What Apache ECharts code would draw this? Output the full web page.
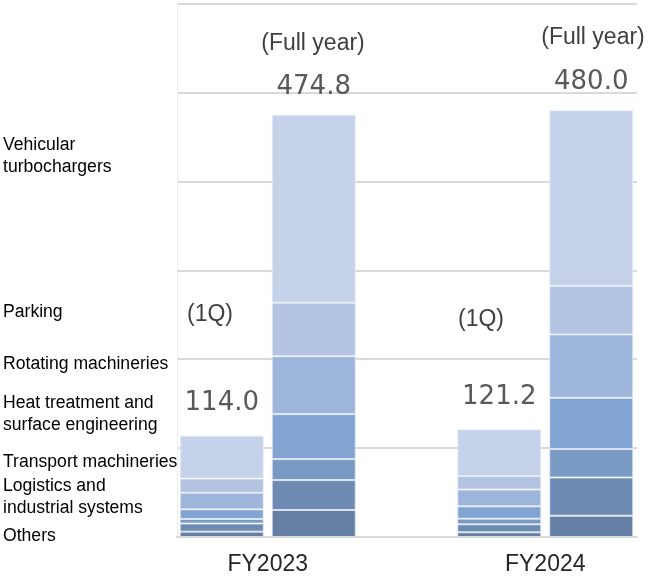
<!DOCTYPE html>
<html>
<head>
<meta charset="utf-8">
<script src="https://cdn.jsdelivr.net/npm/echarts@6/dist/echarts.min.js"></script>
<style>
  html, body { margin: 0; padding: 0; background: #ffffff; }
  #chart { width: 649px; height: 576px; }
</style>
</head>
<body>
<div id="chart"></div>
<script>
// Fiscal years on the category axis
const categories = ['FY2023', 'FY2024'];

// Segment names, bottom of the stack first
const segmentNames = [
  'Others',
  'Logistics and industrial systems',
  'Transport machineries',
  'Heat treatment and surface engineering',
  'Rotating machineries',
  'Parking',
  'Vehicular turbochargers'
];

// First-quarter revenue by segment [FY2023, FY2024]
const q1Others        = [6.0, 5.3];
const q1Logistics     = [9.2, 9.0];
const q1Transport     = [5.0, 6.3];
const q1HeatTreatment = [10.9, 13.9];
const q1Rotating      = [18.7, 18.9];
const q1Parking       = [15.9, 15.1];
const q1Turbo         = [48.3, 52.7];

// Full-year revenue by segment [FY2023, FY2024]
const fyOthers        = [30.3, 23.9];
const fyLogistics     = [33.7, 43.0];
const fyTransport     = [23.6, 32.0];
const fyHeatTreatment = [50.6, 57.6];
const fyRotating      = [65.2, 71.3];
const fyParking       = [60.1, 54.6];
const fyTurbo         = [211.3, 197.6];

const q1Values = [q1Others, q1Logistics, q1Transport, q1HeatTreatment, q1Rotating, q1Parking, q1Turbo];
const fyValues = [fyOthers, fyLogistics, fyTransport, fyHeatTreatment, fyRotating, fyParking, fyTurbo];

// Period captions above each bar pair
const periodCaptions = ['(1Q)', '(Full year)'];

// Value axis ticks
const axisMax = 600;
const axisStep = 100;

// Segment colours, bottom of the stack first
const segmentColors = ['#657fa4', '#6e8cb3', '#789ac3', '#82a4d2', '#9db5db', '#b2c4e1', '#c5d2e9'];

// Left-hand segment captions (top to bottom) and their vertical centres
const sideCaptions = [
  { text: 'Vehicular\nturbochargers', y: 156 },
  { text: 'Parking', y: 312 },
  { text: 'Rotating machineries', y: 364 },
  { text: 'Heat treatment and\nsurface engineering', y: 414 },
  { text: 'Transport machineries', y: 462 },
  { text: 'Logistics and\nindustrial systems', y: 497 },
  { text: 'Others', y: 536 }
];

function stackTotal(valueSets, idx) {
  let s = 0;
  valueSets.forEach(arr => { s += arr[idx]; });
  return Math.round(s * 10) / 10;
}

const chart = echarts.init(document.getElementById('chart'), null, { renderer: 'canvas' });

const series = [];
segmentNames.forEach((name, i) => {
  const isTop = i === segmentNames.length - 1;
  [['1Q', q1Values, 18], ['FY', fyValues, 14]].forEach(([stack, sets, dist]) => {
    series.push({
      type: 'bar',
      name: name,
      stack: stack,
      xAxisIndex: 0,
      yAxisIndex: 0,
      barWidth: 84,
      barGap: '9.5%',
      data: sets[i],
      itemStyle: {
        color: segmentColors[i],
        borderColor: 'rgba(235,240,248,0.7)',
        borderWidth: 1
      },
      emphasis: { disabled: true },
      label: isTop ? {
        show: true,
        position: 'top',
        distance: dist,
        formatter: p => stackTotal(sets, p.dataIndex).toFixed(1),
        fontFamily: '"DejaVu Sans", sans-serif',
        fontSize: 26,
        lineHeight: 28,
        color: '#595959'
      } : { show: false }
    });
  });
});

const graphics = sideCaptions.map(c => ({
  type: 'text',
  left: 3,
  top: c.y - (c.text.indexOf('\n') >= 0 ? 22 : 11),
  style: {
    text: c.text,
    font: '17.6px "Liberation Sans", Arial, sans-serif',
    lineHeight: 22,
    fill: '#000000'
  },
  z: 10
}));

// Period captions: 1Q above the left bars, Full year above the right bars
[
  { text: periodCaptions[0], x: 210, y: 315 },
  { text: periodCaptions[0], x: 481, y: 320 },
  { text: periodCaptions[1], x: 313, y: 44 },
  { text: periodCaptions[1], x: 593, y: 38 }
].forEach(c => {
  graphics.push({
    type: 'text',
    x: c.x,
    y: c.y,
    style: {
      text: c.text,
      font: '23px "Liberation Sans", Arial, sans-serif',
      fill: '#404040',
      align: 'center',
      verticalAlign: 'middle'
    },
    z: 10
  });
});

chart.setOption({
  animation: false,
  backgroundColor: '#ffffff',
  grid: [
    // bar grid runs past the right edge so the second pair sits near it
    { left: 129, right: -35, top: 3.5, bottom: 39, outerBoundsMode: 'none', containLabel: false },
    { left: 177, right: 12, top: 3.5, bottom: 39, outerBoundsMode: 'none' }
  ],
  xAxis: [
    {
      gridIndex: 0,
      type: 'category',
      data: categories,
      axisLine: { show: false },
      axisTick: { show: false },
      axisLabel: {
        margin: 16,
        fontFamily: '"Liberation Sans", Arial, sans-serif',
        fontSize: 23,
        color: '#262626'
      }
    },
    {
      gridIndex: 1,
      type: 'value',
      min: 0,
      max: 1,
      z: 5,
      axisLine: { show: true, lineStyle: { color: '#d9d9d9', width: 2 } },
      axisTick: { show: false },
      axisLabel: { show: false },
      splitLine: { show: false }
    }
  ],
  yAxis: [
    {
      gridIndex: 0,
      type: 'value',
      min: 0,
      max: axisMax,
      interval: axisStep,
      show: false
    },
    {
      gridIndex: 1,
      type: 'value',
      min: 0,
      max: axisMax,
      interval: axisStep,
      axisLine: { show: true, lineStyle: { color: '#eeeeee', width: 1 } },
      axisTick: { show: false },
      axisLabel: { show: false },
      splitLine: { show: true, lineStyle: { color: '#d9d9d9', width: 2 } }
    }
  ],
  series: series,
  graphic: graphics
});
</script>
</body>
</html>
